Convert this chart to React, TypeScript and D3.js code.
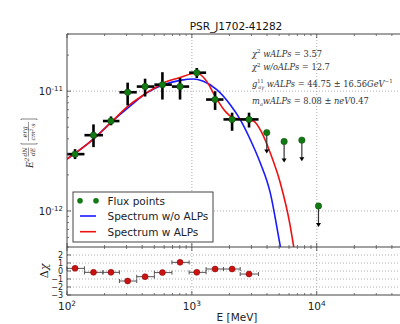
import React from "react";
import * as d3 from "d3";

// ---------- data ----------
const fluxE = [116, 163, 225, 306, 422, 581, 804, 1095, 1535, 2100, 2870];
const fluxEmin = [100, 138, 194, 263, 362, 501, 692, 951, 1300, 1791, 2438];
const fluxEmax = [138, 194, 263, 362, 501, 692, 951, 1300, 1791, 2438, 3420];
const fluxF = [2.98e-12, 4.29e-12, 5.63e-12, 9.79e-12, 1.092e-11, 1.133e-11, 1.092e-11, 1.426e-11, 8.51e-12, 5.81e-12, 5.81e-12];
const fluxFlo = [2.71e-12, 3.41e-12, 5.19e-12, 7.6e-12, 9.02e-12, 8.51e-12, 8.51e-12, 1.288e-11, 6.97e-12, 4.67e-12, 4.97e-12];
const fluxFhi = [3.28e-12, 5.28e-12, 6.15e-12, 1.178e-11, 1.27e-11, 1.44e-11, 1.288e-11, 1.56e-11, 9.98e-12, 6.61e-12, 6.61e-12];

const ulE = [3980, 5480, 7600, 10330];
const ulF = [4.51e-12, 3.8e-12, 3.9e-12, 1.1e-12];

const blueE = [100, 162.4, 221.1, 319.8, 435.1, 590.9, 804.3, 1028, 1236, 1583, 2024, 2434, 2927, 3520, 4232, 5090, 5380];
const blueF = [2.71e-12, 3.97e-12, 5.39e-12, 7.49e-12, 9.68e-12, 1.133e-11, 1.231e-11, 1.264e-11, 1.207e-11, 1.03e-11, 7.74e-12, 5.81e-12, 3.97e-12, 2.54e-12, 1.436e-12, 5.18e-13, 3.8e-13];

const redE = [100, 162.4, 221.1, 319.8, 435.1, 590.9, 804.3, 998, 1095, 1316, 1534, 1845, 2150, 2586, 3110, 3632, 4232, 5090, 6122, 6507, 6776];
const redF = [2.71e-12, 3.97e-12, 5.39e-12, 7.74e-12, 9.68e-12, 1.171e-11, 1.302e-11, 1.398e-11, 1.417e-11, 1.207e-11, 9.07e-12, 6.81e-12, 6.01e-12, 5.81e-12, 5.63e-12, 4.51e-12, 3.08e-12, 1.738e-12, 7.59e-13, 5.18e-13, 4.02e-13];

const residuals = [0.33, -0.17, -0.17, -1.25, -0.71, -0.2, 1.08, -0.17, 0.25, 0.25, -0.38];

const xMajor = [100, 1000, 10000];
const xMajorExp = ["2", "3", "4"];
const yMajor = [1e-11, 1e-12];
const yMajorExp = ["-11", "-12"];
const resTicks = [-3, -2, -1, 0, 1, 2];
const resTickLabels = ["\u22123", "\u22122", "\u22121", "0", "1", "2"];

const titleText = "PSR_J1702-41282";
const xLabel = "E [MeV]";
const legendLabels = ["Flux points", "Spectrum w/o ALPs", "Spectrum w ALPs"];

// ---------- layout ----------
const W = 400, H = 324;
const L = 67, R = 404, T = 34, MB = 247, RB = 295;

const x = d3.scaleLog().domain([100, 5e4]).range([L, R]);
const y = d3.scaleLog().domain([5e-13, 3e-11]).range([MB, T]);
const yr = d3.scaleLinear().domain([-3, 3]).range([RB, MB]);

const xMinor: number[] = [];
[100, 1000, 10000].forEach((d) => {
  for (let k = 2; k <= 9; k++) if (k * d < 5e4) xMinor.push(k * d);
});
const yMinor: number[] = [];
[1e-13, 1e-12, 1e-11].forEach((d) => {
  for (let k = 2; k <= 9; k++) {
    const v = k * d;
    if (v >= 5e-13 && v <= 3e-11) yMinor.push(v);
  }
});

const SPINE = "#444";
const GRID = "#999";
const GREEN = "#137a13";
const RED = "#cc1111";

const line = d3
  .line<[number, number]>()
  .x((d) => x(d[0]))
  .y((d) => y(d[1]))
  .curve(d3.curveMonotoneX);

function Pow10({ px, py, exp, anchor, size = 10 }: any) {
  return (
    <text x={px} y={py} textAnchor={anchor} fontSize={size} fill="#222">
      10
      <tspan dy={-4} fontSize={size * 0.7}>
        {exp}
      </tspan>
    </text>
  );
}

export default function App() {
  const blue = blueE.map((e, i) => [e, blueF[i]] as [number, number]);
  const red = redE.map((e, i) => [e, redF[i]] as [number, number]);
  const font = "'DejaVu Sans', sans-serif";
  const serif = "'DejaVu Serif', serif";
  return (
    <svg
      width={W}
      height={H}
      style={{ position: "absolute", left: 0, top: 0, background: "#fff" }}
      fontFamily={font}
    >
      <defs>
        <clipPath id="mainClip">
          <rect x={L} y={T} width={R - L} height={MB - T} />
        </clipPath>
      </defs>
      <rect x={0} y={0} width={W} height={H} fill="#fff" />

      {/* grids */}
      {xMajor.slice(1).map((v, i) => (
        <g key={"gx" + i}>
          <line x1={x(v)} x2={x(v)} y1={T} y2={MB} stroke={GRID} strokeWidth={0.8} strokeDasharray="1,2" />
          <line x1={x(v)} x2={x(v)} y1={MB} y2={RB} stroke={GRID} strokeWidth={0.8} strokeDasharray="1,2" />
        </g>
      ))}
      {yMajor.map((v, i) => (
        <line key={"gy" + i} x1={L} x2={R} y1={y(v)} y2={y(v)} stroke={GRID} strokeWidth={0.8} strokeDasharray="1,2" />
      ))}
      {resTicks.slice(1).map((v, i) => (
        <line key={"gr" + i} x1={L} x2={R} y1={yr(v)} y2={yr(v)} stroke={GRID} strokeWidth={0.8} strokeDasharray="1,2" />
      ))}

      {/* model curves */}
      <g clipPath="url(#mainClip)">
        <path d={line(blue) || ""} fill="none" stroke="#1a1aff" strokeWidth={1.6} />
        <path d={line(red) || ""} fill="none" stroke="#ee1111" strokeWidth={1.6} />
      </g>

      {/* flux error bars */}
      {fluxE.map((e, i) => (
        <g key={"fe" + i} stroke="#000" strokeWidth={2.6}>
          <line x1={x(fluxEmin[i])} x2={x(fluxEmax[i])} y1={y(fluxF[i])} y2={y(fluxF[i])} />
          <line x1={x(e)} x2={x(e)} y1={y(fluxFlo[i])} y2={y(fluxFhi[i])} />
        </g>
      ))}
      {fluxE.map((e, i) => (
        <circle key={"fp" + i} cx={x(e)} cy={y(fluxF[i])} r={3.2} fill={GREEN} stroke="#0a4a0a" strokeWidth={0.5} />
      ))}

      {/* upper limits */}
      {ulE.map((e, i) => {
        const cx = x(e);
        const cy = y(ulF[i]);
        const tip = cy + 21;
        return (
          <g key={"ul" + i}>
            <line x1={cx} x2={cx} y1={cy} y2={tip - 3} stroke="#333" strokeWidth={1.2} />
            <path d={`M${cx - 2.5},${tip - 4} L${cx + 2.5},${tip - 4} L${cx},${tip} Z`} fill="#000" />
            <circle cx={cx} cy={cy} r={3.2} fill={GREEN} stroke="#0a4a0a" strokeWidth={0.5} />
          </g>
        );
      })}

      {/* residuals */}
      {residuals.map((r, i) => {
        const yy = yr(r);
        const x1 = x(fluxEmin[i]);
        const x2 = x(fluxEmax[i]);
        return (
          <g key={"rs" + i} stroke="#555" strokeWidth={1}>
            <line x1={x1} x2={x2} y1={yy} y2={yy} />
            <line x1={x1} x2={x1} y1={yy - 2} y2={yy + 2} />
            <line x1={x2} x2={x2} y1={yy - 2} y2={yy + 2} />
          </g>
        );
      })}
      {residuals.map((r, i) => (
        <circle key={"rp" + i} cx={x(fluxE[i])} cy={yr(r)} r={3} fill={RED} stroke="#7a0000" strokeWidth={0.5} />
      ))}

      {/* ticks */}
      {xMajor.map((v, i) => (
        <g key={"xt" + i} stroke={SPINE} strokeWidth={0.8}>
          <line x1={x(v)} x2={x(v)} y1={T} y2={T + 4} />
          <line x1={x(v)} x2={x(v)} y1={MB} y2={MB - 4} />
          <line x1={x(v)} x2={x(v)} y1={MB} y2={MB + 4} />
          <line x1={x(v)} x2={x(v)} y1={RB} y2={RB - 4} />
        </g>
      ))}
      {xMinor.map((v, i) => (
        <g key={"xm" + i} stroke={SPINE} strokeWidth={0.7}>
          <line x1={x(v)} x2={x(v)} y1={T} y2={T + 2} />
          <line x1={x(v)} x2={x(v)} y1={MB} y2={MB - 2} />
          <line x1={x(v)} x2={x(v)} y1={MB} y2={MB + 2} />
          <line x1={x(v)} x2={x(v)} y1={RB} y2={RB - 2} />
        </g>
      ))}
      {yMajor.map((v, i) => (
        <line key={"yt" + i} x1={L} x2={L + 4} y1={y(v)} y2={y(v)} stroke={SPINE} strokeWidth={0.8} />
      ))}
      {yMinor.map((v, i) => (
        <line key={"ym" + i} x1={L} x2={L + 2} y1={y(v)} y2={y(v)} stroke={SPINE} strokeWidth={0.7} />
      ))}
      {resTicks.map((v, i) => (
        <line key={"rt" + i} x1={L} x2={L + 4} y1={yr(v)} y2={yr(v)} stroke={SPINE} strokeWidth={0.8} />
      ))}

      {/* spines */}
      <g stroke={SPINE} strokeWidth={1} fill="none">
        <line x1={L} x2={L} y1={T} y2={RB} />
        <line x1={L} x2={R} y1={T} y2={T} />
        <line x1={L} x2={R} y1={MB} y2={MB} />
        <line x1={L} x2={R} y1={RB} y2={RB} />
        <line x1={R} x2={R} y1={T} y2={RB} />
      </g>

      {/* tick labels */}
      {xMajor.map((v, i) => (
        <Pow10 key={"xl" + i} px={x(v)} py={310} exp={xMajorExp[i]} anchor="middle" size={10.5} />
      ))}
      {yMajor.map((v, i) => (
        <Pow10 key={"yl" + i} px={L - 4} py={y(v) + 4} exp={yMajorExp[i]} anchor="end" size={10} />
      ))}
      {resTicks.map((v, i) => (
        <text key={"rl" + i} x={L - 4} y={yr(v) + 3} textAnchor="end" fontSize={8} fill="#222">
          {resTickLabels[i]}
        </text>
      ))}

      {/* title & axis labels */}
      <text x={236} y={29.5} textAnchor="middle" fontSize={10.5} fill="#111">
        {titleText}
      </text>
      <text x={237} y={321} textAnchor="middle" fontSize={10.5} fill="#222">
        {xLabel}
      </text>
      <g transform="translate(48,271) rotate(-90)">
        <text x={0} y={0} textAnchor="middle" fontSize={11} fill="#222" fontFamily={serif}>
          Δ<tspan fontStyle="italic">χ</tspan>
        </text>
      </g>
      <g transform="translate(29,138) rotate(-90)" fill="#333" fontFamily={serif} fontStyle="italic">
        <text x={-30} y={3.5} fontSize={9}>
          E<tspan dy={-3.5} fontSize={6}>2</tspan>
        </text>
        <text x={-14} y={-2} fontSize={6} textAnchor="middle">dN</text>
        <line x1={-18.5} x2={-9.5} y1={-0.5} y2={-0.5} stroke="#333" strokeWidth={0.5} />
        <text x={-14} y={5.5} fontSize={6} textAnchor="middle">dE</text>
        <path d="M-5,-8 L-6,-8 L-6,8 L-5,8" fill="none" stroke="#333" strokeWidth={0.6} />
        <text x={6} y={-2} fontSize={6.5} textAnchor="middle">erg</text>
        <line x1={-3} x2={16} y1={-0.5} y2={-0.5} stroke="#333" strokeWidth={0.5} />
        <text x={6} y={6} fontSize={6} textAnchor="middle">
          cm<tspan dy={-2} fontSize={4.5}>2</tspan>
          <tspan dy={2}>·s</tspan>
        </text>
        <path d="M18,-8 L19,-8 L19,8 L18,8" fill="none" stroke="#333" strokeWidth={0.6} />
      </g>

      {/* annotations */}
      <g fontFamily={serif} fontSize={8.3} fill="#333">
        <text x={252} y={56.5}>
          <tspan fontStyle="italic">χ</tspan>
          <tspan dy={-3.5} fontSize={5.5}>2</tspan>
          <tspan dy={3.5} fontStyle="italic"> wALPs</tspan>
          <tspan> = 3.57</tspan>
        </text>
        <text x={252} y={70}>
          <tspan fontStyle="italic">χ</tspan>
          <tspan dy={-3.5} fontSize={5.5}>2</tspan>
          <tspan dy={3.5} fontStyle="italic"> w/oALPs</tspan>
          <tspan> = 12.7</tspan>
        </text>
        <text x={252} y={86.5}>
          <tspan fontStyle="italic">g</tspan>
          <tspan dy={-4} fontSize={5}>11</tspan>
          <tspan dx={-5.5} dy={6} fontSize={5} fontStyle="italic">aγ</tspan>
          <tspan dy={-2} fontStyle="italic"> wALPs</tspan>
          <tspan> = 44.75 ± 16.56</tspan>
          <tspan fontStyle="italic">GeV</tspan>
          <tspan dy={-3.5} fontSize={5.5}>−1</tspan>
        </text>
        <text x={252} y={103.5}>
          <tspan fontStyle="italic">m</tspan>
          <tspan dy={2} fontSize={5} fontStyle="italic">a</tspan>
          <tspan dy={-2} fontStyle="italic">wALPs</tspan>
          <tspan> = 8.08 ± </tspan>
          <tspan fontStyle="italic">neV</tspan>
          <tspan>0.47</tspan>
        </text>
      </g>

      {/* legend */}
      <g>
        <rect x={73} y={192} width={140} height={50} fill="#fff" stroke={SPINE} strokeWidth={1} />
        <circle cx={80} cy={200.7} r={2.8} fill={GREEN} />
        <circle cx={96} cy={200.7} r={2.8} fill={GREEN} />
        <line x1={80} x2={96} y1={216} y2={216} stroke="#1a1aff" strokeWidth={1.6} />
        <line x1={80} x2={96} y1={231.7} y2={231.7} stroke="#ee1111" strokeWidth={1.6} />
        {legendLabels.map((t, i) => (
          <text key={"lg" + i} x={107.5} y={204.5 + i * 15.5} fontSize={10.5} fill="#222">
            {t}
          </text>
        ))}
      </g>
    </svg>
  );
}
